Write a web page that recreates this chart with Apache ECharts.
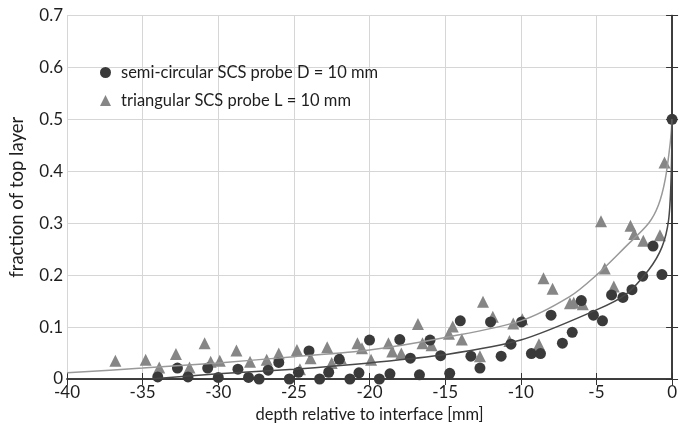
<!DOCTYPE html>
<html>
<head>
<meta charset="utf-8">
<script src="https://cdn.jsdelivr.net/npm/echarts@6/dist/echarts.min.js"></script>
<style>
  html, body { margin: 0; padding: 0; background: #fff; }
  #chart { width: 680px; height: 431px; }
</style>
</head>
<body>
<div id="chart"></div>
<script>
// x tick labels (mm) and y ticks
const xTicks = [-40, -35, -30, -25, -20, -15, -10, -5, 0];
const yTicks = [0, 0.1, 0.2, 0.3, 0.4, 0.5, 0.6, 0.7];

// semi-circular probe, measured points [depth, fraction]
const semiCircular = [
  [-34.0, 0.004], [-32.7, 0.021], [-32.0, 0.004], [-30.7, 0.021], [-30.0, 0.003],
  [-28.7, 0.019], [-28.0, 0.003], [-27.3, 0.0], [-26.7, 0.017], [-26.0, 0.032],
  [-25.3, 0.0], [-24.7, 0.013], [-24.0, 0.054], [-23.3, 0.0], [-22.7, 0.013],
  [-22.0, 0.038], [-21.3, 0.0], [-20.7, 0.012], [-20.0, 0.075], [-19.35, 0.0],
  [-18.65, 0.010], [-18.0, 0.076], [-17.3, 0.040], [-16.7, 0.008], [-16.0, 0.075],
  [-15.3, 0.045], [-14.7, 0.011], [-14.0, 0.112], [-13.3, 0.044], [-12.7, 0.021],
  [-12.0, 0.110], [-11.3, 0.044], [-10.65, 0.067], [-9.95, 0.110], [-9.3, 0.049],
  [-8.7, 0.049], [-8.0, 0.123], [-7.25, 0.069], [-6.6, 0.090], [-6.0, 0.151],
  [-5.2, 0.123], [-4.6, 0.112], [-4.0, 0.162], [-3.25, 0.157], [-2.65, 0.172],
  [-1.94, 0.198], [-1.26, 0.256], [-0.67, 0.201], [0, 0.5]
];

// triangular probe, measured points
const triangular = [
  [-36.8, 0.035], [-34.8, 0.037], [-33.9, 0.022], [-32.8, 0.048], [-31.9, 0.022],
  [-30.9, 0.069], [-30.5, 0.033], [-29.9, 0.035], [-28.8, 0.055], [-27.9, 0.033],
  [-26.8, 0.037], [-26.0, 0.049], [-24.8, 0.056], [-24.6, 0.019], [-23.9, 0.040],
  [-22.8, 0.061], [-22.5, 0.031], [-21.9, 0.040], [-20.8, 0.069], [-20.5, 0.059],
  [-19.9, 0.037], [-18.75, 0.069], [-18.5, 0.053], [-17.9, 0.049], [-16.8, 0.106],
  [-16.5, 0.069], [-15.9, 0.065], [-14.75, 0.087], [-14.5, 0.101], [-13.9, 0.076],
  [-12.7, 0.044], [-12.5, 0.149], [-11.85, 0.120], [-10.75, 0.073], [-10.5, 0.107],
  [-9.9, 0.115], [-8.8, 0.067], [-8.5, 0.194], [-7.9, 0.174], [-6.75, 0.146],
  [-6.5, 0.147], [-5.9, 0.144], [-4.7, 0.304], [-4.45, 0.213], [-3.85, 0.178],
  [-2.75, 0.295], [-2.5, 0.279], [-1.9, 0.266], [-0.8, 0.277], [-0.5, 0.417]
];

// fitted curves
const fitTriangular = [
  [-40, 0.012], [-35, 0.021], [-30, 0.031], [-25, 0.043], [-20, 0.056],
  [-15, 0.080], [-10, 0.112], [-6.8, 0.158], [-5, 0.200], [-3.1, 0.254],
  [-1.55, 0.300], [-0.9, 0.335], [-0.45, 0.385], [-0.12, 0.455], [0, 0.5]
];
const fitSemiCircular = [
  [-34.5, 0.0], [-30, 0.010], [-25, 0.019], [-20, 0.031], [-15, 0.047],
  [-10, 0.075], [-5, 0.133], [-3.1, 0.162], [-1.55, 0.210], [-0.67, 0.254],
  [-0.23, 0.306], [-0.06, 0.390], [0, 0.5]
];

const fontFam = 'Lato, "Open Sans", sans-serif';
const axisColor = '#333';
const textColor = '#1e1e1e';

let myChart = echarts.init(document.getElementById('chart'));

let option = {
  animation: false,
  backgroundColor: '#fff',
  textStyle: { fontFamily: fontFam },
  grid: { left: 65.5, right: 6.5, top: 15.5, bottom: 52 },
  legend: {
    orient: 'vertical',
    left: 95,
    top: 59,
    itemGap: 11,
    itemWidth: 11,
    itemHeight: 11,
    textStyle: { fontSize: 16.5, color: textColor, fontFamily: fontFam, padding: [0, 0, 0, 5] },
    data: [
      { name: 'semi-circular SCS probe D = 10 mm', icon: 'circle' },
      { name: 'triangular SCS probe L = 10 mm', icon: 'triangle' }
    ]
  },
  xAxis: [
    {
      type: 'value', min: -40, max: 0, interval: 5,
      name: 'depth relative to interface [mm]',
      nameLocation: 'middle', nameGap: 27,
      nameTextStyle: { fontSize: 16.5, color: textColor },
      axisLine: { lineStyle: { color: axisColor, width: 1.5 } },
      axisTick: { inside: true, length: 6, lineStyle: { color: axisColor } },
      axisLabel: { fontSize: 17, color: textColor, margin: 5 },
      splitLine: { lineStyle: { color: '#d6d6d6' } }
    },
    {
      type: 'value', min: -40, max: 0, interval: 5, position: 'top',
      axisLine: { lineStyle: { color: axisColor, width: 1.5 } },
      axisTick: { inside: true, length: 6, lineStyle: { color: axisColor } },
      axisLabel: { show: false },
      splitLine: { show: false }
    }
  ],
  yAxis: [
    {
      type: 'value', min: 0, max: 0.7, interval: 0.1,
      name: 'fraction of top layer',
      nameLocation: 'middle', nameGap: 40, nameRotate: 90,
      nameTextStyle: { fontSize: 18.5, color: textColor },
      axisLine: { show: true, lineStyle: { color: axisColor, width: 1.5 } },
      axisTick: { show: true, inside: true, length: 6, lineStyle: { color: axisColor } },
      axisLabel: { fontSize: 17, color: textColor, margin: 4 },
      splitLine: { lineStyle: { color: '#d6d6d6' } }
    },
    {
      type: 'value', min: 0, max: 0.7, interval: 0.1, position: 'right',
      axisLine: { show: true, lineStyle: { color: axisColor, width: 1.5 } },
      axisTick: { show: true, inside: true, length: 6, lineStyle: { color: axisColor } },
      axisLabel: { show: false },
      splitLine: { show: false }
    }
  ],
  series: [
    {
      name: 'triangular SCS probe L = 10 mm',
      type: 'scatter',
      symbol: 'triangle',
      symbolSize: 12,
      clip: false,
      itemStyle: { color: '#868686', opacity: 1 },
      data: triangular
    },
    {
      name: 'semi-circular SCS probe D = 10 mm',
      type: 'scatter',
      symbol: 'circle',
      symbolSize: 11,
      clip: false,
      itemStyle: { color: '#3a3a3a', opacity: 1 },
      data: semiCircular
    },
    {
      name: 'fit triangular',
      type: 'line',
      smooth: 0.3,
      showSymbol: false,
      lineStyle: { color: '#999', width: 1.5 },
      data: fitTriangular
    },
    {
      name: 'fit semi-circular',
      type: 'line',
      smooth: 0.3,
      showSymbol: false,
      lineStyle: { color: '#484848', width: 1.5 },
      data: fitSemiCircular
    }
  ]
};

myChart.setOption(option);
</script>
</body>
</html>
